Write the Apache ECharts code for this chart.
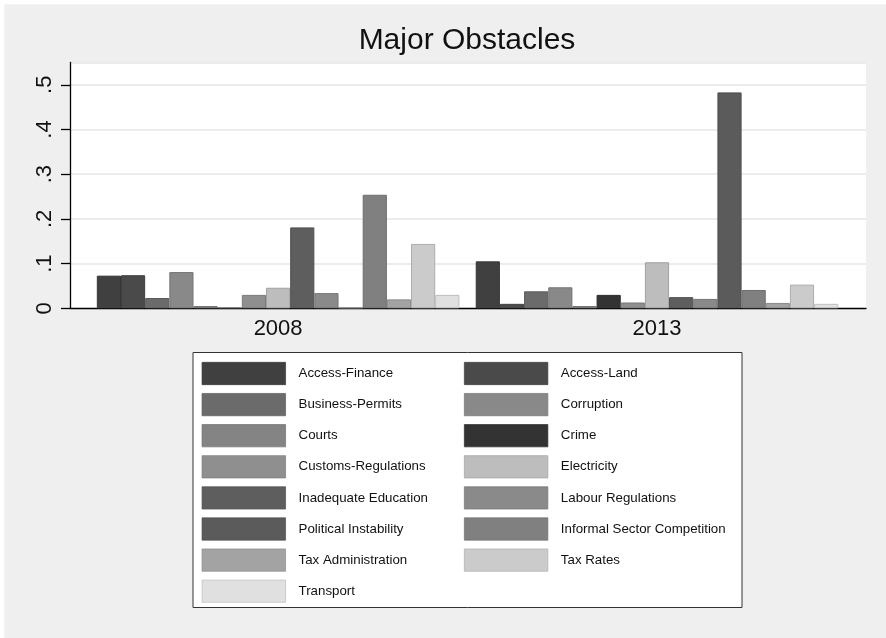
<!DOCTYPE html>
<html>
<head>
<meta charset="utf-8">
<script src="https://cdn.jsdelivr.net/npm/echarts@6/dist/echarts.min.js"></script>
<style>
  html, body { margin: 0; padding: 0; background: #ffffff; }
  #chart { width: 886px; height: 638px; }
</style>
</head>
<body>
<div id="chart"></div>
<script>
// ---- data ----
const categories = ['2008', '2013'];
const obstacles = [
  'Access-Finance', 'Access-Land', 'Business-Permits', 'Corruption', 'Courts',
  'Crime', 'Customs-Regulations', 'Electricity', 'Inadequate Education',
  'Labour Regulations', 'Political Instability', 'Informal Sector Competition',
  'Tax Administration', 'Tax Rates', 'Transport'
];
const values2008 = [0.073, 0.074, 0.023, 0.081, 0.005, 0, 0.030, 0.046, 0.181, 0.034, 0, 0.254, 0.020, 0.144, 0.030];
const values2013 = [0.105, 0.010, 0.038, 0.047, 0.005, 0.030, 0.013, 0.103, 0.025, 0.021, 0.483, 0.041, 0.012, 0.053, 0.010];
const yTicks = [0, 0.1, 0.2, 0.3, 0.4, 0.5];

// ---- styles ----
const fills = ['#404040', '#4a4a4a', '#6b6b6b', '#898989', '#848484', '#333333', '#8f8f8f', '#bdbdbd',
               '#5e5e5e', '#8a8a8a', '#5b5b5b', '#808080', '#a3a3a3', '#cbcbcb', '#e0e0e0'];
function darker(hex, f) {
  const n = parseInt(hex.slice(1), 16);
  const c = [(n >> 16) & 255, (n >> 8) & 255, n & 255].map(v => Math.round(v * f));
  return 'rgb(' + c.join(',') + ')';
}
const FONT = 'Liberation Sans, Arial, Helvetica, sans-serif';

const chart = echarts.init(document.getElementById('chart'), null, { renderer: 'canvas' });

const series = obstacles.map((name, i) => ({
  name: name,
  type: 'bar',
  xAxisIndex: 1,
  yAxisIndex: 1,
  data: [values2008[i], values2013[i]],
  barWidth: 24.17,
  barGap: '0%',
  itemStyle: { color: fills[i], borderColor: darker(fills[i], 0.85), borderWidth: 1 },
  emphasis: { disabled: true },
  animation: false
}));

const leftCol = obstacles.filter((_, i) => i % 2 === 0);
const rightCol = obstacles.filter((_, i) => i % 2 === 1);

const legendBase = {
  orient: 'vertical',
  top: 362,
  itemWidth: 83.5,
  itemHeight: 22.3,
  itemGap: 8.1,
  icon: 'rect',
  padding: 0,
  selectedMode: false,
  itemStyle: { borderWidth: 0.7 },
  textStyle: { fontFamily: FONT, fontSize: 13.3, color: '#111', padding: [0, 0, 0, 8] }
};

const option = {
  backgroundColor: '#efefef',
  animation: false,
  grid: [
    { left: 70, right: 20, top: 62.45, bottom: 329.7, show: true, backgroundColor: '#ffffff', borderWidth: 0 },
    { left: 88.65, right: 39.55, top: 62.45, bottom: 329.7 }
  ],
  xAxis: [
    { gridIndex: 0, type: 'value', min: 0, max: 1,
      axisLine: { show: true, lineStyle: { color: '#000', width: 1.3 } },
      axisTick: { show: false }, axisLabel: { show: false }, splitLine: { show: false } },
    { gridIndex: 1, type: 'category', data: categories,
      axisLine: { show: false }, axisTick: { show: false },
      axisLabel: { fontFamily: FONT, fontSize: 22, color: '#111', margin: 10 } }
  ],
  yAxis: [
    { gridIndex: 0, type: 'value', min: 0, max: 0.55, interval: 0.1,
      axisLine: { show: true, lineStyle: { color: '#000', width: 1.3 } },
      axisTick: { show: true, length: 9, lineStyle: { color: '#000', width: 1.3 } },
      axisLabel: { rotate: 90, margin: 14, fontFamily: FONT, fontSize: 22, color: '#111',
        showMaxLabel: false,
        formatter: v => {
          const t = yTicks.find(x => Math.abs(x - v) < 1e-9);
          if (t === undefined) return '';
          return t === 0 ? '0' : String(t).replace(/^0/, '');
        } },
      splitLine: { show: true, lineStyle: { color: '#e6e6e6', width: 1.5 } } },
    { gridIndex: 1, type: 'value', min: 0, max: 0.55, show: false, splitLine: { show: false } }
  ],
  legend: [
    Object.assign({}, legendBase, { left: 201.7, data: leftCol }),
    Object.assign({}, legendBase, { left: 464, data: rightCol })
  ],
  graphic: [
    { type: 'rect', z: -10, silent: true, shape: { x: 0, y: 0, width: 886, height: 4.3 }, style: { fill: '#ffffff' } },
    { type: 'rect', z: -10, silent: true, shape: { x: 0, y: 0, width: 4.3, height: 638 }, style: { fill: '#ffffff' } },
    { type: 'rect', z: -5, silent: true, shape: { x: 193, y: 352.5, width: 549, height: 255 },
      style: { fill: '#ffffff', stroke: '#333333', lineWidth: 1 } },
    { type: 'text', silent: true, x: 467, y: 41,
      style: { text: 'Major Obstacles', font: '30px ' + FONT, fill: '#111', textAlign: 'center', textVerticalAlign: 'middle' } }
  ],
  series: series
};

chart.setOption(option);
</script>
</body>
</html>
